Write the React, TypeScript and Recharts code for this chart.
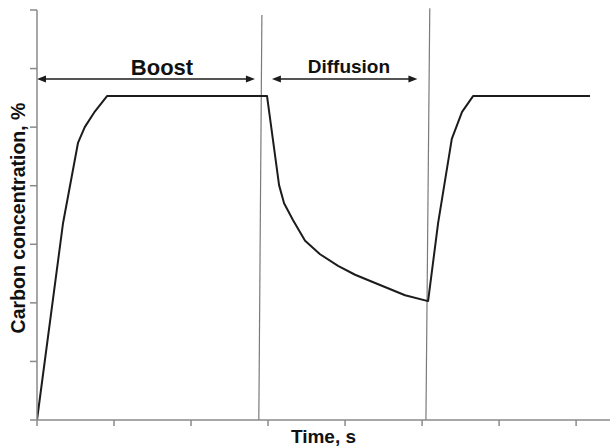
import React from 'react';
import { LineChart, Line, XAxis, YAxis, ReferenceLine, ReferenceDot, Label } from 'recharts';

// time in tick units, carbon in tick units
const curveTime = [0, 0.338, 0.532, 0.62, 0.753, 0.909, 2.987, 3.143, 3.208, 3.325, 3.481, 3.675, 3.909, 4.13, 4.351, 4.779, 5.078, 5.208, 5.386, 5.519, 5.662, 7.18];
const curveCarbon = [0, 3.36, 4.73, 5.0, 5.27, 5.53, 5.53, 4.01, 3.7, 3.41, 3.06, 2.83, 2.63, 2.48, 2.36, 2.13, 2.03, 3.36, 4.8, 5.26, 5.53, 5.53];

const xTicks = [0, 1, 2, 3, 4, 5, 6, 7];
const yTicks = [0, 1, 2, 3, 4, 5, 6, 7];

const phaseNames = ['Boost', 'Diffusion'];
const phaseStart = [0, 3.05];
const phaseEnd = [2.83, 4.94];
const phaseArrowY = [5.82, 5.82];
const phaseLabelX = [1.623, 4.05];
const phaseLabelY = [6.02, 6.035];
const phaseFont = [22, 19];

// slightly tilted switch lines: [top, bottom]
const switchTop = [{ x: 2.92, y: 6.915 }, { x: 5.1, y: 7.03 }];
const switchBottom = [{ x: 2.88, y: 0 }, { x: 5.05, y: 0 }];

const chartData = curveTime.map((t, i) => ({ t, c: curveCarbon[i] }));

const axisColor = '#8a8a8a';
const inkColor = '#1c1c1c';
const font = '"Liberation Sans", Arial, sans-serif';

const NoTick = () => <g />;

const DoubleArrow = (props: any) => {
  const { x1, y1, x2, y2 } = props;
  const head = 9;
  const half = 3.5;
  return (
    <g>
      <line x1={x1 + head - 1} y1={y1} x2={x2 - head + 1} y2={y2} stroke={inkColor} strokeWidth={1.5} />
      <polygon points={`${x1},${y1} ${x1 + head},${y1 - half} ${x1 + head},${y1 + half}`} fill={inkColor} />
      <polygon points={`${x2},${y2} ${x2 - head},${y2 - half} ${x2 - head},${y2 + half}`} fill={inkColor} />
    </g>
  );
};

const App: React.FC = () => {
  return (
    <div style={{ position: 'absolute', left: 0, top: 0, width: 610, height: 446, background: '#fff' }}>
      <LineChart width={610} height={446} data={chartData} margin={{ top: 10, right: 0, left: 0, bottom: 0 }}>
        <XAxis
          dataKey="t"
          type="number"
          domain={[0, 7.44]}
          ticks={xTicks}
          allowDataOverflow
          tick={NoTick}
          tickSize={6}
          tickLine={{ stroke: axisColor, strokeWidth: 1.5 }}
          height={26}
          stroke={axisColor}
          strokeWidth={1.5}
        >
          <Label
            value="Time, s"
            position="insideBottom"
            offset={3}
            style={{ fontFamily: font, fontWeight: 'bold', fontSize: 19, fill: '#111' }}
          />
        </XAxis>
        <YAxis
          type="number"
          domain={[0, 7]}
          ticks={yTicks}
          tick={NoTick}
          tickSize={7}
          tickLine={{ stroke: axisColor, strokeWidth: 1.5 }}
          width={37}
          stroke={axisColor}
          strokeWidth={1.5}
        >
          <Label
            value="Carbon concentration, %"
            position="center"
            angle={-90}
            dy={3}
            style={{ fontFamily: font, fontWeight: 'bold', fontSize: 19.5, fill: '#111', textAnchor: 'middle' }}
          />
        </YAxis>
        {switchTop.map((top, i) => (
          <ReferenceLine
            key={`sw${i}`}
            segment={[top, switchBottom[i]]}
            stroke="#7a7a7a"
            strokeWidth={1.2}
            ifOverflow="visible"
          />
        ))}
        {phaseNames.map((name, i) => (
          <ReferenceLine
            key={`ar${i}`}
            segment={[{ x: phaseStart[i], y: phaseArrowY[i] }, { x: phaseEnd[i], y: phaseArrowY[i] }]}
            shape={(p: any) => <DoubleArrow {...p} />}
            ifOverflow="visible"
          />
        ))}
        {phaseNames.map((name, i) => (
          <ReferenceDot
            key={`lb${i}`}
            x={phaseLabelX[i]}
            y={phaseLabelY[i]}
            r={0}
            fill="none"
            stroke="none"
            ifOverflow="visible"
            label={{
              value: name,
              position: 'center',
              style: { fontFamily: font, fontWeight: 'bold', fontSize: phaseFont[i], fill: '#111' },
            }}
          />
        ))}
        <Line
          type="linear"
          dataKey="c"
          stroke={inkColor}
          strokeWidth={2}
          strokeLinejoin="round"
          dot={false}
          isAnimationActive={false}
        />
      </LineChart>
    </div>
  );
};

export default App;
